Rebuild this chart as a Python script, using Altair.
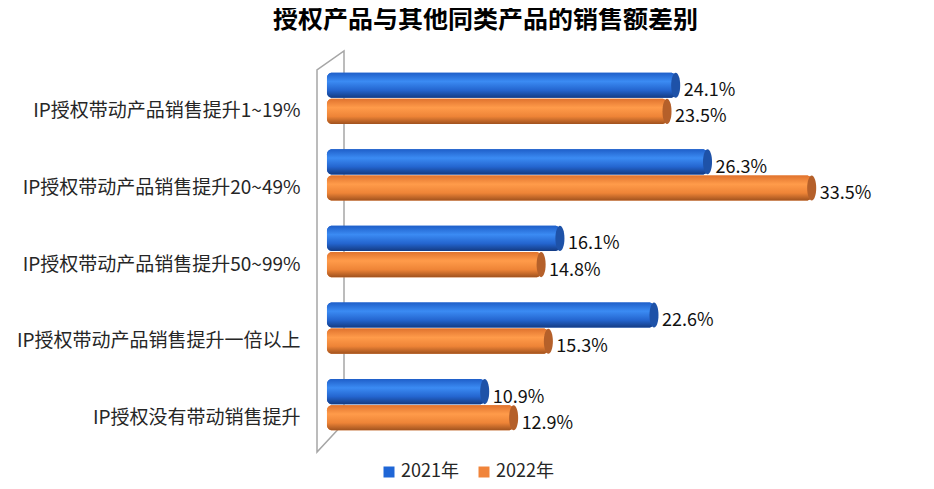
import altair as alt
import pandas as pd

categories = [
    "IP授权带动产品销售提升1~19%",
    "IP授权带动产品销售提升20~49%",
    "IP授权带动产品销售提升50~99%",
    "IP授权带动产品销售提升一倍以上",
    "IP授权没有带动销售提升",
]
years = ["2021年", "2022年"]
v2021 = [24.1, 26.3, 16.1, 22.6, 10.9]
v2022 = [23.5, 33.5, 14.8, 15.3, 12.9]

FONT = "Noto Sans CJK SC"

rows = []
for c, a, b in zip(categories, v2021, v2022):
    rows.append({"cat": c, "year": years[0], "value": a, "cap": "#1e52a8"})
    rows.append({"cat": c, "year": years[1], "value": b, "cap": "#b5602a"})
df = pd.DataFrame(rows)

blue_grad = alt.Gradient(
    gradient="linear", x1=0, x2=0, y1=0, y2=1,
    stops=[
        alt.GradientStop(color="#1f5fc9", offset=0),
        alt.GradientStop(color="#3b8bf3", offset=0.35),
        alt.GradientStop(color="#2465cf", offset=0.7),
        alt.GradientStop(color="#143b82", offset=1),
    ],
)
orange_grad = alt.Gradient(
    gradient="linear", x1=0, x2=0, y1=0, y2=1,
    stops=[
        alt.GradientStop(color="#e0732e", offset=0),
        alt.GradientStop(color="#ff9b4a", offset=0.35),
        alt.GradientStop(color="#ee8437", offset=0.7),
        alt.GradientStop(color="#a0521e", offset=1),
    ],
)

xscale = alt.Scale(domain=[-0.69, 41.4], nice=False, zero=False)
yenc = alt.Y(
    "cat:N", sort=categories,
    scale=alt.Scale(paddingInner=0.33, paddingOuter=0.165),
    axis=alt.Axis(
        title=None, ticks=False, domain=False, grid=False, labelFontSize=19, labelFont=FONT,
        labelColor="#262626", labelPadding=17, labelOffset=13, labelLimit=400,
    ),
)
yoff = alt.YOffset("year:N", scale=alt.Scale(paddingInner=0.04))

base = alt.Chart(df)

# decorative 3D back wall outline, drawn as one stroked symbol (pixel-unit path)
wall_df = pd.DataFrame({"k": [0]})
wall_path = "M0,10L0,392L27,363L27,-9Z"
wall = alt.Chart(wall_df).mark_point(
    shape=wall_path, size=4, filled=False, stroke="#a6a6a6", strokeWidth=1.5, opacity=1
).encode(x=alt.value(0), y=alt.value(0))

legend_bars = base.mark_bar(cornerRadius=5).encode(
    x=alt.X("value:Q", scale=xscale, axis=None),
    x2=alt.datum(0),
    y=yenc,
    yOffset=yoff,
    color=alt.Color(
        "year:N",
        scale=alt.Scale(domain=years, range=["#1f66d6", "#f0843a"]),
        legend=alt.Legend(
            title=None, orient="none", legendX=63, legendY=403,
            direction="horizontal", symbolType="square", symbolSize=121,
            labelFontSize=18, labelFont=FONT, labelColor="#262626",
            columnPadding=16, labelOffset=3, padding=0, symbolStrokeWidth=0,
        ),
    ),
)

def grad_bars(year, grad):
    return base.transform_filter(alt.datum.year == year).mark_bar(
        cornerRadius=5, color=grad
    ).encode(
        x=alt.X("value:Q", scale=xscale, axis=None),
        x2=alt.datum(0),
        y=yenc,
        yOffset=yoff,
    )

ellipse = "M0,-1A0.36,1,0,1,1,0,1A0.36,1,0,1,1,0,-1Z"
caps = base.mark_point(shape=ellipse, size=630, filled=True, opacity=1, strokeWidth=0).encode(
    x=alt.X("value:Q", scale=xscale, axis=None),
    y=yenc,
    yOffset=yoff,
    fill=alt.Fill("cap:N", scale=None),
)

labels = base.transform_calculate(
    lab="format(datum.value, '.1f') + '%'"
).mark_text(align="left", dx=8, dy=6, fontSize=18, font=FONT, color="#111111").encode(
    x=alt.X("value:Q", scale=xscale, axis=None),
    y=yenc,
    yOffset=yoff,
    text="lab:N",
)

chart = alt.layer(
    wall, legend_bars, grad_bars(years[0], blue_grad), grad_bars(years[1], orange_grad), caps, labels
).properties(
    width=609, height=383,
    background="white",
    autosize=alt.AutoSizeParams(type="none"),
    padding={"left": 309, "top": 52, "right": 0, "bottom": 38},
    title=alt.TitleParams(
        "授权产品与其他同类产品的销售额差别", fontSize=25, fontWeight="bold",
        font=FONT, color="#000000", offset=15, dx=-136, anchor="middle",
    ),
).configure_view(stroke=None)

chart.save("out.html", embed_options={"renderer": "svg", "actions": False})
